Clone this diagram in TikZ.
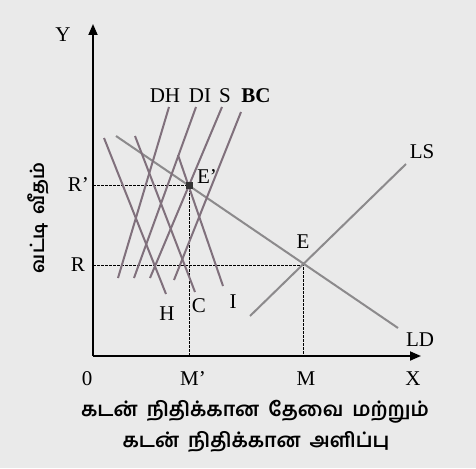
\documentclass[tikz,border=0pt]{standalone}
\usepackage{fontspec}
\setmainfont{Liberation Serif}
\newfontfamily\tamilfont[Script=Tamil,WordSpace=1.8]{Hind Madurai}
\usetikzlibrary{arrows.meta}
\definecolor{bgc}{RGB}{234,234,234}
\definecolor{curvec}{RGB}{128,112,124}
\definecolor{mktc}{RGB}{140,138,140}
\tikzset{
  axis/.style={line width=1.8pt,-{Triangle[length=11pt,width=9pt]}},
  guide/.style={line width=0.9pt,dash pattern=on 2.5pt off 1.5pt},
  supplyc/.style={curvec,line width=2pt},
  mkt/.style={mktc,line width=2pt},
  lbl/.style={font=\fontsize{21}{23}\selectfont,inner sep=1pt},
  tam/.style={font=\tamilfont\bfseries\fontsize{20}{22}\selectfont,inner sep=0pt}
}
\begin{document}
\begin{tikzpicture}[x=1pt,y=-1pt]
\fill[bgc] (0,0) rectangle (476,468);
\useasboundingbox (0,0) rectangle (476,468);
% coordinates
\coordinate (O) at (93,356);
\coordinate (Ytop) at (93,24);
\coordinate (Xend) at (421,356);
\coordinate (Ep) at (189,185);
\coordinate (E) at (303,265);
\coordinate (Rp) at (93,185);
\coordinate (R) at (93,265);
\coordinate (Mp) at (189,356);
\coordinate (M) at (303,356);
% guides
\draw[guide] (Rp) -- (Ep) -- (Mp);
\draw[guide] (R) -- (E) -- (M);
% market curves
\coordinate (LDa) at (116,136);
\coordinate (LDb) at (398,328);
\coordinate (LSa) at (250,316);
\coordinate (LSb) at (406,164);
\draw[mkt] (LDa) -- (LDb);
\draw[mkt] (LSa) -- (LSb);
% supply lines
\coordinate (DHa) at (118,278); \coordinate (DHb) at (169,107);
\coordinate (DIa) at (134,278); \coordinate (DIb) at (196,107);
\coordinate (Sa) at (150,278); \coordinate (Sb) at (222,107);
\coordinate (BCa) at (174,280); \coordinate (BCb) at (241,112);
\draw[supplyc] (DHa) -- (DHb);
\draw[supplyc] (DIa) -- (DIb);
\draw[supplyc] (Sa) -- (Sb);
\draw[supplyc] (BCa) -- (BCb);
% demand lines
\coordinate (Ha) at (104,138); \coordinate (Hb) at (166,294);
\coordinate (Ca) at (135,136); \coordinate (Cb) at (195,292);
\coordinate (Ia) at (178,155); \coordinate (Ib) at (223,286);
\draw[supplyc] (Ha) -- (Hb);
\draw[supplyc] (Ca) -- (Cb);
\draw[supplyc] (Ia) -- (Ib);
% axes
\draw[axis] (O) -- (Ytop);
\draw[axis] (O) -- (Xend);
\fill[black!80] (Ep) ++(-3.5,-3.5) rectangle ++(7,7);
% labels
\node[lbl] (yl) at (63,35) {Y};
\node[lbl] (xl) at (413,379) {X};
\node[lbl] (ol) at (87,379) {0};
\node[lbl] (mpl) at (193,379) {M'};
\node[lbl] (ml) at (306,379) {M};
\node[lbl,anchor=east] (rpl) at (90,185) {R'};
\node[lbl,anchor=east] (rl) at (86,265) {R};
\node[lbl] (epl) at (207,177) {E'};
\node[lbl] (el) at (303,242) {E};
\node[lbl] (lsl) at (422,152) {LS};
\node[lbl] (ldl) at (420,340) {LD};
\node[lbl] (dhl) at (165,96) {DH};
\node[lbl] (dil) at (200,96) {DI};
\node[lbl] (sl) at (225,96) {S};
\node[lbl] (bcl) at (256,96) {\bfseries BC};
\node[lbl] (hl) at (167,314) {H};
\node[lbl] (cl) at (199,306) {C};
\node[lbl] (il) at (233,302) {I};
\node[tam,rotate=90,font=\tamilfont\bfseries\fontsize{18.5}{20}\selectfont] (yax) at (38,218) {வட்டி வீதம்};
\node[tam] (xax1) at (255,412) {கடன் நிதிக்கான தேவை மற்றும்};
\node[tam] (xax2) at (256,442) {கடன் நிதிக்கான அளிப்பு};
\end{tikzpicture}
\end{document}
